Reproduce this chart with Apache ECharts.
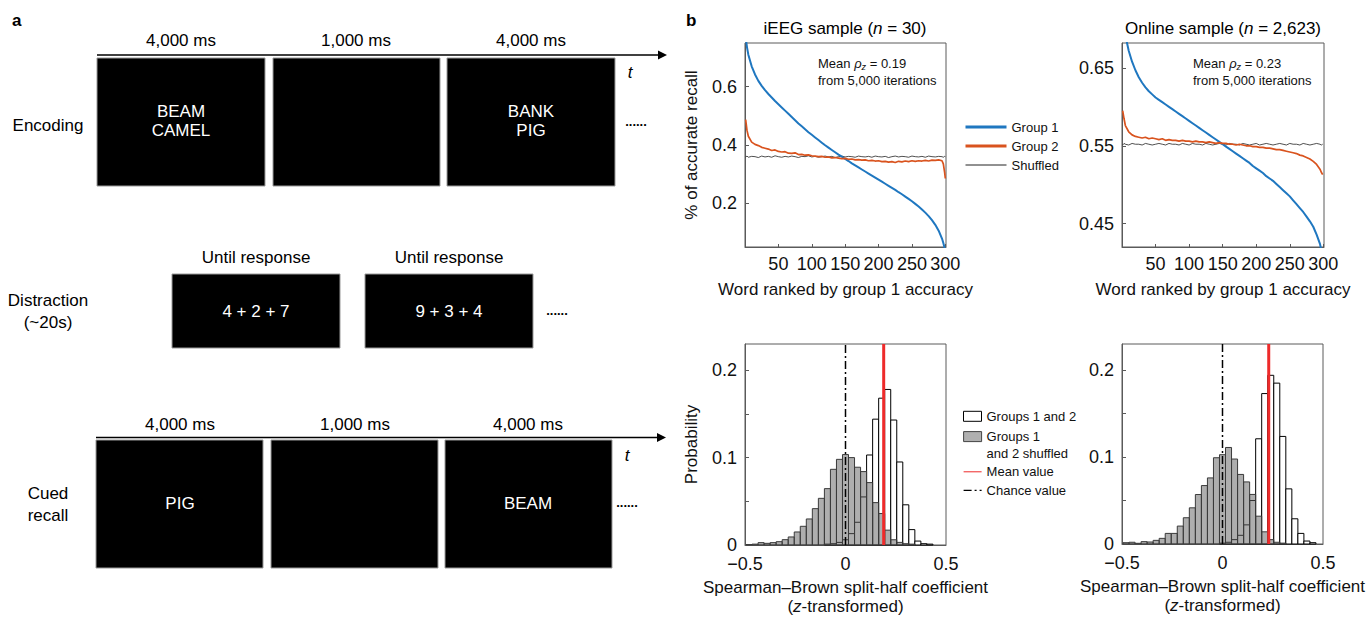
<!DOCTYPE html>
<html>
<head>
<meta charset="utf-8">
<script src="https://cdn.jsdelivr.net/npm/echarts@6/dist/echarts.min.js"></script>
<style>
html,body{margin:0;padding:0;background:#fff;}
#chart{width:1370px;height:617px;}
</style>
</head>
<body>
<div id="chart"></div>
<script>
// ---------------- DATA ----------------
const ranks = [1,3,5,10,15,20,25,30,35,40,45,50,55,60,65,70,75,80,85,90,95,100,105,110,115,120,125,130,135,140,145,150,155,160,165,170,175,180,185,190,195,200,205,210,215,220,225,230,235,240,245,250,255,260,265,270,275,280,285,290,295,297,299,300];
const rankTicks = [50,100,150,200,250,300];

const g1Ieeg = [0.77,0.735,0.71,
  0.67,0.642,0.62,0.603,0.588,0.575,0.563,0.551,0.54,0.529,
  0.518,0.507,0.496,0.485,0.474,0.464,0.454,0.444,0.435,0.426,
  0.417,0.408,0.399,0.391,0.383,0.375,0.367,0.36,0.352,0.345,
  0.337,0.33,0.323,0.316,0.309,0.302,0.295,0.288,0.281,0.274,
  0.267,0.26,0.253,0.246,0.238,0.231,0.223,0.215,0.207,0.198,
  0.189,0.179,0.168,0.156,0.142,0.126,0.106,0.079,
  0.064,0.046,0.036];
const g2Ieeg = [0.487,0.45,0.43,
  0.41,0.402,0.398,0.392,0.389,0.386,0.381,0.383,0.378,0.376,
  0.377,0.372,0.371,0.373,0.367,0.368,0.365,0.366,0.363,0.362,
  0.36,0.361,0.358,0.359,0.356,0.357,0.355,0.353,0.354,0.351,
  0.352,0.349,0.35,0.348,0.349,0.346,0.347,0.345,0.346,0.343,
  0.344,0.341,0.343,0.34,0.344,0.342,0.345,0.343,0.346,0.344,
  0.346,0.345,0.347,0.345,0.348,0.347,0.349,0.346,
  0.335,0.305,0.285];
const shufIeeg = [0.359,0.362,0.358,0.361,0.36,0.357,0.362,0.359,0.361,0.358,
  0.363,0.36,0.358,0.361,0.359,0.362,0.36,0.357,0.361,0.36,
  0.363,0.359,0.361,0.358,0.36,0.362,0.359,0.361,0.357,0.36,
  0.362,0.359,0.361,0.36,0.358,0.362,0.36,0.359,0.361,0.358,
  0.362,0.36,0.359,0.361,0.357,0.36,0.362,0.359,0.361,0.36,
  0.358,0.362,0.36,0.359,0.361,0.358,0.362,0.36,0.359,0.361,
  0.36,0.358,0.361,0.36];

const g1Online = [0.72,0.703,0.692,
  0.672,0.658,0.647,0.638,0.631,0.625,0.62,0.616,0.612,0.609,
  0.606,0.603,0.6,0.597,0.594,0.591,0.588,0.585,0.582,0.579,
  0.576,0.573,0.57,0.567,0.564,0.561,0.558,0.555,0.552,0.549,
  0.546,0.543,0.54,0.537,0.534,0.531,0.528,0.524,0.521,0.518,
  0.515,0.511,0.508,0.505,0.501,0.497,0.493,0.489,0.485,0.48,
  0.475,0.47,0.465,0.459,0.453,0.446,0.436,0.424,
  0.416,0.405,0.398];
const g2Online = [0.595,0.585,0.576,
  0.568,0.564,0.562,0.561,0.56,0.561,0.559,0.56,0.559,0.558,
  0.559,0.557,0.558,0.557,0.557,0.556,0.557,0.556,0.556,0.555,
  0.556,0.555,0.555,0.554,0.555,0.554,0.553,0.554,0.553,0.553,
  0.552,0.552,0.551,0.552,0.551,0.55,0.55,0.549,0.549,0.548,
  0.548,0.547,0.547,0.546,0.545,0.545,0.544,0.543,0.542,0.541,
  0.54,0.538,0.537,0.535,0.533,0.53,0.526,0.52,
  0.516,0.513,0.513];
const shufOnline = [0.551,0.553,0.552,0.551,0.553,0.552,0.552,0.551,0.553,0.552,
  0.551,0.552,0.553,0.552,0.551,0.553,0.552,0.552,0.551,0.553,
  0.552,0.551,0.553,0.552,0.552,0.551,0.553,0.552,0.551,0.552,
  0.553,0.552,0.551,0.553,0.552,0.552,0.551,0.553,0.552,0.551,
  0.552,0.553,0.551,0.552,0.553,0.552,0.551,0.552,0.553,0.552,
  0.551,0.553,0.552,0.552,0.551,0.553,0.552,0.551,0.552,0.553,
  0.552,0.551,0.552,0.552];

const binCenters = [-0.48,-0.45,-0.42,-0.39,-0.36,-0.33,-0.30,-0.27,-0.24,-0.21,-0.18,-0.15,-0.12,-0.09,-0.06,-0.03,0,0.03,0.06,0.09,0.12,0.15,0.18,0.21,0.24,0.27,0.30,0.33,0.36,0.39,0.42,0.45,0.48];
const binWidth = 0.03;
const histPairIeeg = [0,0,0,0,0,0,0,0,0,0,0,0,0,0.001,0.0015,0.003,
  0.006,0.013,0.026,0.055,0.103,0.144,0.168,0.178,0.143,0.095,0.046,0.0176,0.0045,0.0015,0.001,0,0];
const histShufIeeg = [0.0005,0.001,0.0027,0.0019,0.0027,0.0038,0.0061,0.0092,0.0149,0.0214,0.0298,0.0416,0.0534,0.0645,0.0866,0.098,
  0.1035,0.1,0.089,0.084,0.0714,0.0485,0.036,0.017,0.006,0.003,0.0015,0.001,0,0,0,0,0];
const histPairOnline = [0,0,0,0,0,0,0,0,0,0,0,0,0,0,0,0,
  0.001,0.002,0.005,0.01,0.022,0.05,0.121,0.173,0.194,0.185,0.1237,0.0634,0.029,0.0122,0.0034,0.0015,0];
const histShufOnline = [0.0015,0.002,0.0008,0.0027,0.0023,0.0042,0.0065,0.0122,0.0122,0.0206,0.0302,0.0416,0.0569,0.0672,0.076,0.0992,
  0.1027,0.111,0.0977,0.08,0.0714,0.057,0.032,0.014,0.005,0.002,0.001,0,0,0,0,0,0];

const meanIeeg = 0.19;
const meanOnline = 0.23;
const chanceValue = 0;
const histTicks = [0,0.05,0.1,0.15,0.2];
const histLabels = [0,0.1,0.2];
const coefTicks = [-0.5,0,0.5];

// ---------------- STYLE ----------------
const FF = "'Liberation Sans', Arial, Helvetica, sans-serif";
const AX = '#5a5a5a';
const TXT = '#111';
const BLUE = '#1f77c0';
const ORANGE = '#d9531e';
const RED = '#ee2a2a';
const HIST_Y_MAX = 0.23;
const NO_SYMBOL = { opacity: 0, color: 'rgba(0,0,0,0)', borderWidth: 0 };

const zip = (xs, ys) => xs.map((x, i) => [x, ys[i]]);

function histRender(fill, stroke) {
  return function (params, api) {
    const c = api.value(0), h = api.value(1);
    if (!(h > 0)) return null;
    const p0 = api.coord([c - binWidth / 2, 0]);
    const p1 = api.coord([c + binWidth / 2, h]);
    return {
      type: 'rect',
      shape: { x: p0[0], y: p1[1], width: p1[0] - p0[0], height: p0[1] - p1[1] },
      style: { fill: fill, stroke: stroke, lineWidth: 1 }
    };
  };
}

function lineXAxis(gi) {
  return {
    type: 'value', gridIndex: gi, min: 0, max: 301,
    axisLine: { onZero: false, lineStyle: { color: AX } },
    axisTick: { inside: true, length: 3, customValues: rankTicks, lineStyle: { color: AX } },
    axisLabel: { customValues: rankTicks, fontSize: 18, color: TXT, margin: 8, fontFamily: FF },
    splitLine: { show: false },
    name: 'Word ranked by group 1 accuracy', nameLocation: 'middle', nameGap: 34,
    nameTextStyle: { fontSize: 17, color: TXT, fontFamily: FF }
  };
}
function histXAxis(gi) {
  return {
    type: 'value', gridIndex: gi, min: -0.5, max: 0.5,
    axisLine: { onZero: false, lineStyle: { color: AX } },
    axisTick: { show: false },
    axisLabel: { customValues: coefTicks, fontSize: 18, color: TXT, margin: 10, fontFamily: FF,
      formatter: v => (v < 0 ? '\u2212' : '') + Math.abs(v) },
    splitLine: { show: false },
    name: 'Spearman\u2013Brown split-half coefficient\n({i|z}-transformed)',
    nameLocation: 'middle', nameGap: 33,
    nameTextStyle: { fontSize: 17, color: TXT, fontFamily: FF, lineHeight: 19,
      rich: { i: { fontStyle: 'italic', fontSize: 17, color: TXT, fontFamily: FF, lineHeight: 19 } } }
  };
}
function yAxisDef(gi, min, max, ticks, labels, fmt, name) {
  const ax = {
    type: 'value', gridIndex: gi, min: min, max: max,
    axisLine: { onZero: false, lineStyle: { color: AX } },
    axisTick: { inside: true, length: 4, customValues: ticks, lineStyle: { color: AX } },
    axisLabel: { customValues: labels, fontSize: 18, color: TXT, margin: 8, fontFamily: FF, formatter: fmt },
    splitLine: { show: false }
  };
  if (name) {
    ax.name = name; ax.nameLocation = 'middle'; ax.nameGap = 45;
    ax.nameTextStyle = { fontSize: 17, color: TXT, fontFamily: FF };
  }
  return ax;
}

const gridBase = { show: true, borderColor: AX, borderWidth: 1, backgroundColor: 'rgba(0,0,0,0)' };

// ---------------- PANEL A graphics ----------------
function T(x, y, text, o) {
  o = o || {};
  return {
    type: 'text', x: x, y: y, z: 10,
    style: Object.assign({
      text: text, fill: o.fill || '#000',
      fontSize: o.fontSize || 17, fontFamily: FF,
      fontWeight: o.fontWeight || 'normal', fontStyle: o.fontStyle || 'normal',
      lineHeight: o.lineHeight || 20,
      align: o.align || 'center', textAlign: o.align || 'center',
      verticalAlign: 'middle', textVerticalAlign: 'middle'
    }, o.extra || {})
  };
}
function R(x, y, w, h) {
  return { type: 'rect', z: 5, shape: { x: x, y: y, width: w, height: h }, style: { fill: '#000', stroke: '#9a9a9a', lineWidth: 1 } };
}
function arrow(x1, x2, y) {
  return [
    { type: 'line', z: 5, shape: { x1: x1, y1: y, x2: x2 - 4, y2: y }, style: { stroke: '#000', lineWidth: 1.6 } },
    { type: 'polygon', z: 5, shape: { points: [[x2 - 9, y - 4.5], [x2, y], [x2 - 9, y + 4.5]] }, style: { fill: '#000' } }
  ];
}

const graphics = [].concat(
  [T(12, 20, 'a', { align: 'left', fontWeight: 'bold', fontSize: 17 }),
   T(686, 20, 'b', { align: 'left', fontWeight: 'bold', fontSize: 17 })],
  // Encoding
  [T(181, 40, '4,000 ms'), T(356, 40, '1,000 ms'), T(531, 40, '4,000 ms')],
  arrow(97, 667, 55),
  [R(97, 58, 168, 128), R(273, 58, 167, 128), R(447, 58, 168, 128),
   T(630, 72, 't', { fontStyle: 'italic' }),
   T(636, 121, '......', { fontSize: 13, fontWeight: 'bold' }),
   T(48, 125, 'Encoding'),
   T(181, 121, 'BEAM\nCAMEL', { fill: '#fff', lineHeight: 19 }),
   T(531, 121, 'BANK\nPIG', { fill: '#fff', lineHeight: 19 })],
  // Distraction
  [T(256, 257, 'Until response'), T(449, 257, 'Until response'),
   R(172, 274, 168, 74), R(365, 274, 168, 74),
   T(256, 311, '4 + 2 + 7', { fill: '#fff' }), T(449, 311, '9 + 3 + 4', { fill: '#fff' }),
   T(557, 310, '......', { fontSize: 13, fontWeight: 'bold' }),
   T(48, 311, 'Distraction\n(~20s)', { lineHeight: 22 })],
  // Cued recall
  [T(180, 424, '4,000 ms'), T(355, 424, '1,000 ms'), T(528, 424, '4,000 ms')],
  arrow(96, 666, 437.5),
  [R(96, 440, 167, 128), R(271, 440, 167, 128), R(445, 440, 167, 128),
   T(627, 455, 't', { fontStyle: 'italic' }),
   T(627, 502, '......', { fontSize: 13, fontWeight: 'bold' }),
   T(48, 504, 'Cued\nrecall', { lineHeight: 22 }),
   T(180, 503, 'PIG', { fill: '#fff' }),
   T(528, 503, 'BEAM', { fill: '#fff' })],
  // Panel b titles
  [
    { type: 'text', x: 845, y: 28, z: 10, style: { text: '{r|iEEG sample (}{i|n}{r| = 30)}',
      align: 'center', textAlign: 'center', verticalAlign: 'middle', textVerticalAlign: 'middle',
      rich: { r: { fontSize: 17, fontFamily: FF, fill: '#000' }, i: { fontSize: 17, fontFamily: FF, fontStyle: 'italic', fill: '#000' } } } },
    { type: 'text', x: 1223, y: 28, z: 10, style: { text: '{r|Online sample (}{i|n}{r| = 2,623)}',
      align: 'center', textAlign: 'center', verticalAlign: 'middle', textVerticalAlign: 'middle',
      rich: { r: { fontSize: 17, fontFamily: FF, fill: '#000' }, i: { fontSize: 17, fontFamily: FF, fontStyle: 'italic', fill: '#000' } } } }
  ]
);
function annot(x, val) {
  const rich = {
    r: { fontSize: 13, fontFamily: FF, fill: '#111', lineHeight: 16, verticalAlign: 'middle' },
    i: { fontSize: 13, fontFamily: FF, fill: '#111', fontStyle: 'italic', lineHeight: 16, verticalAlign: 'middle' },
    s: { fontSize: 9, fontFamily: FF, fill: '#111', fontStyle: 'italic', lineHeight: 9, verticalAlign: 'bottom' }
  };
  return [
    { type: 'text', x: x, y: 63, z: 10, style: { text: '{r|Mean }{i|\u03c1}{s|z}{r| = ' + val + '}', rich: rich,
      align: 'left', textAlign: 'left', verticalAlign: 'middle', textVerticalAlign: 'middle' } },
    T(x, 80, 'from 5,000 iterations', { align: 'left', fontSize: 13, fill: '#111' })
  ];
}
graphics.push.apply(graphics, annot(818, meanIeeg.toFixed(2)));
graphics.push.apply(graphics, annot(1193, meanOnline.toFixed(2)));

// ---------------- OPTION ----------------
const option = {
  animation: false,
  backgroundColor: '#fff',
  textStyle: { fontFamily: FF },
  grid: [
    Object.assign({ left: 745, top: 43, width: 201, height: 204 }, gridBase),
    Object.assign({ left: 1122, top: 43, width: 202, height: 204 }, gridBase),
    Object.assign({ left: 745, top: 344, width: 201, height: 201 }, gridBase),
    Object.assign({ left: 1122, top: 344, width: 201, height: 200 }, gridBase)
  ],
  xAxis: [lineXAxis(0), lineXAxis(1), histXAxis(2), histXAxis(3)],
  yAxis: [
    yAxisDef(0, 0.05, 0.75, [0.2, 0.4, 0.6], [0.2, 0.4, 0.6], v => v.toFixed(1), '% of accurate recall'),
    yAxisDef(1, 0.42, 0.682, [0.45, 0.55, 0.65], [0.45, 0.55, 0.65], v => v.toFixed(2), null),
    yAxisDef(2, 0, HIST_Y_MAX, histTicks, histLabels, v => (v === 0 ? '0' : v.toFixed(1)), 'Probability'),
    yAxisDef(3, 0, HIST_Y_MAX, histTicks, histLabels, v => (v === 0 ? '0' : v.toFixed(1)), null)
  ],
  legend: [
    { orient: 'vertical', left: 964, top: 119, padding: 0, itemWidth: 41, itemHeight: 10, itemGap: 3,
      selectedMode: false,
      textStyle: { fontSize: 13, lineHeight: 16, color: TXT, fontFamily: FF },
      data: [
        { name: 'Group 1', lineStyle: { width: 3 }, itemStyle: NO_SYMBOL },
        { name: 'Group 2', lineStyle: { width: 3 }, itemStyle: NO_SYMBOL },
        { name: 'Shuffled', lineStyle: { width: 1 }, itemStyle: NO_SYMBOL }
      ] },
    { orient: 'vertical', left: 963, top: 408, padding: 0, itemWidth: 18, itemHeight: 10, itemGap: 2,
      selectedMode: false,
      textStyle: { fontSize: 13, lineHeight: 16.6, color: TXT, fontFamily: FF },
      data: [
        { name: 'Groups 1 and 2', icon: 'rect', itemStyle: { color: '#fff', borderColor: '#000', borderWidth: 1 } }
      ] },
    { orient: 'vertical', left: 963, top: 411.7, padding: 0, itemWidth: 18, itemHeight: 10, itemGap: 2,
      selectedMode: false,
      textStyle: { fontSize: 13, lineHeight: 16.6, color: TXT, fontFamily: FF },
      formatter: n => (n === 'Groups 1 and 2 shuffled' ? ' \nGroups 1\nand 2 shuffled' : n),
      data: [
        { name: 'Groups 1 and 2 shuffled', icon: 'rect', itemStyle: { color: '#b0b0b0', borderColor: '#444', borderWidth: 1 } },
        { name: 'Mean value', lineStyle: { width: 1 }, itemStyle: NO_SYMBOL },
        { name: 'Chance value', lineStyle: { width: 1.2 }, itemStyle: NO_SYMBOL }
      ] }
  ],
  series: [
    // iEEG curves
    { type: 'line', name: 'Shuffled', xAxisIndex: 0, yAxisIndex: 0, data: zip(ranks, shufIeeg), symbol: 'none',
      lineStyle: { color: '#222', width: 0.8 }, itemStyle: { color: '#222' }, z: 2 },
    { type: 'line', name: 'Group 1', xAxisIndex: 0, yAxisIndex: 0, data: zip(ranks, g1Ieeg), symbol: 'none',
      lineStyle: { color: BLUE, width: 2 }, itemStyle: { color: BLUE }, z: 3 },
    { type: 'line', name: 'Group 2', xAxisIndex: 0, yAxisIndex: 0, data: zip(ranks, g2Ieeg), symbol: 'none',
      lineStyle: { color: ORANGE, width: 1.7 }, itemStyle: { color: ORANGE }, z: 4 },
    // Online curves
    { type: 'line', name: 'Shuffled', xAxisIndex: 1, yAxisIndex: 1, data: zip(ranks, shufOnline), symbol: 'none',
      lineStyle: { color: '#222', width: 0.8 }, itemStyle: { color: '#222' }, z: 2 },
    { type: 'line', name: 'Group 1', xAxisIndex: 1, yAxisIndex: 1, data: zip(ranks, g1Online), symbol: 'none',
      lineStyle: { color: BLUE, width: 2 }, itemStyle: { color: BLUE }, z: 3 },
    { type: 'line', name: 'Group 2', xAxisIndex: 1, yAxisIndex: 1, data: zip(ranks, g2Online), symbol: 'none',
      lineStyle: { color: ORANGE, width: 1.7 }, itemStyle: { color: ORANGE }, z: 4 },
    // iEEG histograms
    { type: 'custom', name: 'Groups 1 and 2', xAxisIndex: 2, yAxisIndex: 2, data: zip(binCenters, histPairIeeg),
      encode: { x: 0, y: 1 }, renderItem: histRender('#fff', '#000'), itemStyle: { color: '#fff', borderColor: '#000' }, z: 2 },
    { type: 'custom', name: 'Groups 1 and 2 shuffled', xAxisIndex: 2, yAxisIndex: 2, data: zip(binCenters, histShufIeeg),
      encode: { x: 0, y: 1 }, renderItem: histRender('rgba(100,100,100,0.52)', '#3a3a3a'), itemStyle: { color: '#b0b0b0' }, z: 3 },
    { type: 'line', name: 'Mean value', xAxisIndex: 2, yAxisIndex: 2, data: [[meanIeeg, 0], [meanIeeg, HIST_Y_MAX]], symbol: 'none',
      lineStyle: { color: RED, width: 3 }, itemStyle: { color: RED }, z: 5 },
    { type: 'line', name: 'Chance value', xAxisIndex: 2, yAxisIndex: 2, data: [[chanceValue, 0], [chanceValue, HIST_Y_MAX]], symbol: 'none',
      lineStyle: { color: '#000', width: 1.5, type: [8, 3, 2, 3] }, itemStyle: { color: '#000' }, z: 6 },
    // Online histograms
    { type: 'custom', name: 'Groups 1 and 2', xAxisIndex: 3, yAxisIndex: 3, data: zip(binCenters, histPairOnline),
      encode: { x: 0, y: 1 }, renderItem: histRender('#fff', '#000'), itemStyle: { color: '#fff', borderColor: '#000' }, z: 2 },
    { type: 'custom', name: 'Groups 1 and 2 shuffled', xAxisIndex: 3, yAxisIndex: 3, data: zip(binCenters, histShufOnline),
      encode: { x: 0, y: 1 }, renderItem: histRender('rgba(100,100,100,0.52)', '#3a3a3a'), itemStyle: { color: '#b0b0b0' }, z: 3 },
    { type: 'line', name: 'Mean value', xAxisIndex: 3, yAxisIndex: 3, data: [[meanOnline, 0], [meanOnline, HIST_Y_MAX]], symbol: 'none',
      lineStyle: { color: RED, width: 3 }, itemStyle: { color: RED }, z: 5 },
    { type: 'line', name: 'Chance value', xAxisIndex: 3, yAxisIndex: 3, data: [[chanceValue, 0], [chanceValue, HIST_Y_MAX]], symbol: 'none',
      lineStyle: { color: '#000', width: 1.5, type: [8, 3, 2, 3] }, itemStyle: { color: '#000' }, z: 6 }
  ],
  graphic: { elements: graphics }
};

const chart = echarts.init(document.getElementById('chart'), null, { renderer: 'svg', width: 1370, height: 617 });
chart.setOption(option);
</script>
</body>
</html>
